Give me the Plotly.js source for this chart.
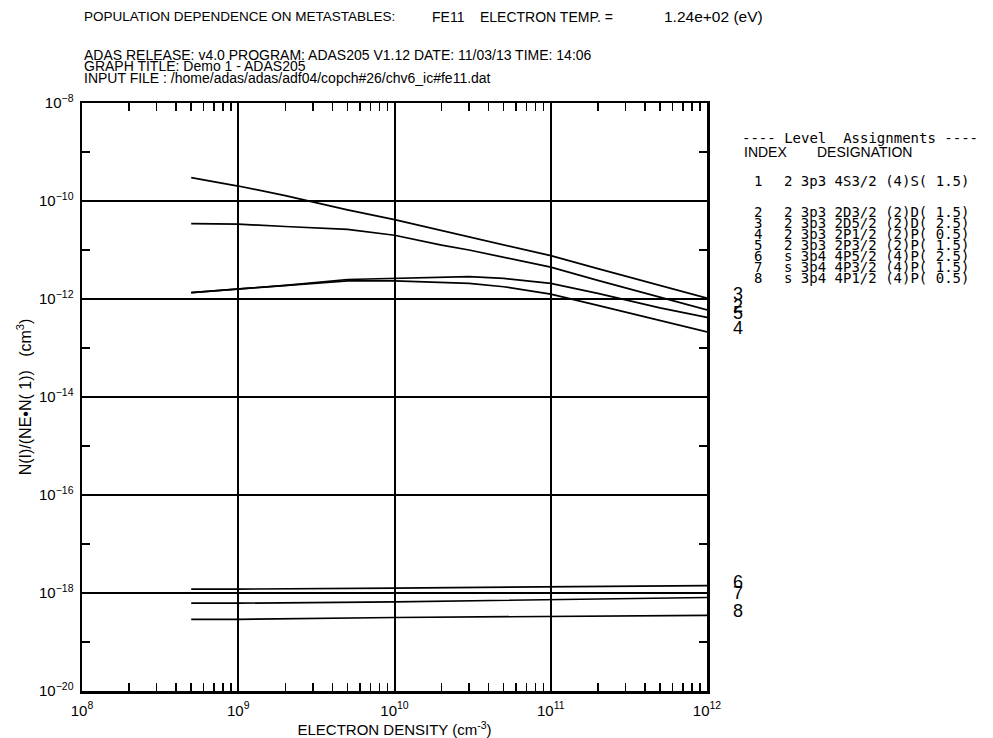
<!DOCTYPE html>
<html><head><meta charset="utf-8">
<script src="https://cdn.plot.ly/plotly-3.0.1.min.js"></script>
<style>html,body{margin:0;padding:0;background:#fff}</style>
</head><body><div id="chart" style="width:993px;height:738px"></div>
<script>
// ---- data ----
const density = [5e8, 1e9, 2e9, 5e9, 1e10, 2e10, 3e10, 5e10, 1e11, 2e11, 5e11, 1e12];
const level2 = [3.44e-11, 3.37e-11, 3.02e-11, 2.64e-11, 2.0e-11, 1.26e-11, 1.0e-11, 7.2e-12, 4.47e-12, 2.4e-12, 1.07e-12, 6.0e-13];
const level3 = [2.99e-10, 2.02e-10, 1.29e-10, 6.6e-11, 4.17e-11, 2.51e-11, 1.86e-11, 1.29e-11, 7.66e-12, 4.17e-12, 1.91e-12, 1.04e-12];
const level4 = [1.35e-12, 1.58e-12, 1.86e-12, 2.35e-12, 2.35e-12, 2.19e-12, 2.09e-12, 1.78e-12, 1.26e-12, 7.4e-13, 3.6e-13, 2.14e-13];
const level5 = [1.35e-12, 1.6e-12, 1.9e-12, 2.5e-12, 2.63e-12, 2.82e-12, 2.85e-12, 2.63e-12, 2.09e-12, 1.3e-12, 6.6e-13, 4.2e-13];
const densityLow = [5e8, 1e9, 1e10, 1e11, 1e12];
const level6 = [1.2e-18, 1.2e-18, 1.26e-18, 1.35e-18, 1.42e-18];
const level7 = [6.2e-19, 6.2e-19, 6.6e-19, 7.4e-19, 8.1e-19];
const level8 = [2.9e-19, 2.9e-19, 3.16e-19, 3.3e-19, 3.5e-19];

const xDecades = [1e8, 1e9, 1e10, 1e11, 1e12];
const xTickLabels = ['10<sup>8</sup>', '10<sup>9</sup>', '10<sup>10</sup>', '10<sup>11</sup>', '10<sup>12</sup>'];
const yDecades = [1e-20, 1e-19, 1e-18, 1e-17, 1e-16, 1e-15, 1e-14, 1e-13, 1e-12, 1e-11, 1e-10, 1e-9, 1e-8];
const yTickLabels = ['10<sup>−20</sup>', '', '10<sup>−18</sup>', '', '10<sup>−16</sup>', '', '10<sup>−14</sup>', '', '10<sup>−12</sup>', '', '10<sup>−10</sup>', '', '10<sup>−8</sup>'];
const yGrid = [1e-18, 1e-16, 1e-14, 1e-12, 1e-10];

const legendIndex = ['1', '2', '3', '4', '5', '6', '7', '8'];
const legendDesignation = [
  '2 3p3 4S3/2 (4)S( 1.5)',
  '2 3p3 2D3/2 (2)D( 1.5)',
  '2 3p3 2D5/2 (2)D( 2.5)',
  '2 3p3 2P1/2 (2)P( 0.5)',
  '2 3p3 2P3/2 (2)P( 1.5)',
  's 3p4 4P5/2 (4)P( 2.5)',
  's 3p4 4P3/2 (4)P( 1.5)',
  's 3p4 4P1/2 (4)P( 0.5)'
];
const curveNames = ['2', '3', '4', '5', '6', '7', '8'];
const curveX = [density, density, density, density, densityLow, densityLow, densityLow];
const curveY = [level2, level3, level4, level5, level6, level7, level8];

// ---- layout helpers ----
const L = 82, R = 707, T = 103, B = 691;
const px = x => (x - L) / (R - L);
const py = y => (B - y) / (B - T);
const SANS = 'Liberation Sans, Arial, sans-serif';
const MONO = 'DejaVu Sans Mono, Liberation Mono, monospace';

const xMinor = [];
for (let i = 0; i < xDecades.length - 1; i++) for (let m = 2; m <= 9; m++) xMinor.push(xDecades[i] * m);
const xAllTicks = xDecades.concat(xMinor);
const xAllText = xTickLabels.concat(xMinor.map(() => ''));

const traces = curveNames.map((n, i) => ({
  x: curveX[i], y: curveY[i], type: 'scatter', mode: 'lines', name: n,
  line: {color: '#000', width: 1.7}, hoverinfo: 'skip', showlegend: false
}));
traces.push({x: [1e9], y: [1e-14], xaxis: 'x2', yaxis: 'y2', type: 'scatter', mode: 'markers',
  marker: {opacity: 0}, showlegend: false, hoverinfo: 'skip'});

const annotations = [];
curveNames.forEach((n, i) => {
  const yv = curveY[i][curveY[i].length - 1];
  annotations.push({x: 12, y: Math.log10(yv), xref: 'x', yref: 'y', text: n, showarrow: false,
    xanchor: 'center', yanchor: 'middle', xshift: 31, yshift: 4, font: {family: SANS, size: 18, color: '#000'}});
});
const header = [
  ['POPULATION DEPENDENCE ON METASTABLES:', 82, 17, 13.5],
  ['FE11', 430, 17, 14],
  ['ELECTRON TEMP. =', 478, 17, 14],
  ['1.24e+02 (eV)', 662, 17, 15.5],
  ['ADAS RELEASE: v4.0 PROGRAM: ADAS205 V1.12 DATE: 11/03/13 TIME: 14:06', 82, 55, 14],
  ['GRAPH TITLE: Demo 1 - ADAS205', 82, 66, 14],
  ['INPUT FILE : /home/adas/adas/adf04/copch#26/chv6_ic#fe11.dat', 82, 78, 14]
];
header.forEach(h => annotations.push({x: px(h[1]), y: py(h[2]), xref: 'paper', yref: 'paper', text: h[0],
  showarrow: false, xanchor: 'left', yanchor: 'middle', font: {family: SANS, size: h[3], color: '#000'}}));
annotations.push({x: px(740), y: py(138), xref: 'paper', yref: 'paper', text: '---- Level  Assignments ----',
  showarrow: false, xanchor: 'left', yanchor: 'middle', font: {family: MONO, size: 14, color: '#000'}});
annotations.push({x: px(742), y: py(152), xref: 'paper', yref: 'paper', text: 'INDEX',
  showarrow: false, xanchor: 'left', yanchor: 'middle', font: {family: SANS, size: 14, color: '#000'}});
annotations.push({x: px(815), y: py(152), xref: 'paper', yref: 'paper', text: 'DESIGNATION',
  showarrow: false, xanchor: 'left', yanchor: 'middle', font: {family: SANS, size: 14, color: '#000'}});
const rowY = [181, 212, 223, 234, 245, 256, 267, 278];
legendIndex.forEach((idx, i) => {
  annotations.push({x: px(758), y: py(rowY[i]), xref: 'paper', yref: 'paper', text: idx, showarrow: false,
    xanchor: 'center', yanchor: 'middle', font: {family: MONO, size: 14, color: '#000'}});
  annotations.push({x: px(782), y: py(rowY[i]), xref: 'paper', yref: 'paper', text: legendDesignation[i], showarrow: false,
    xanchor: 'left', yanchor: 'middle', font: {family: MONO, size: 14, color: '#000'}});
});

const layout = {
  width: 993, height: 738,
  margin: {l: L, r: 993 - R, t: T, b: 738 - B, pad: 0},
  paper_bgcolor: '#fff', plot_bgcolor: '#fff',
  showlegend: false,
  xaxis: {
    type: 'log', range: [8, 12], tickmode: 'array', tickvals: xAllTicks, ticktext: xAllText,
    ticks: 'inside', ticklen: 8, tickwidth: 1.5, tickcolor: '#000', mirror: 'allticks',
    showline: true, linewidth: 2.5, linecolor: '#000', showgrid: false, zeroline: false,
    ticklabelstandoff: 4,
    tickfont: {family: SANS, size: 15, color: '#000'},
    title: {text: 'ELECTRON DENSITY (cm<sup>-3</sup>)', font: {family: SANS, size: 15, color: '#000'}, standoff: 8}
  },
  xaxis2: {
    type: 'log', range: [8, 12], overlaying: 'x', tickmode: 'array', tickvals: xDecades,
    showgrid: true, gridcolor: '#000', gridwidth: 2, showticklabels: false, ticks: '', showline: false, zeroline: false
  },
  yaxis: {
    type: 'log', range: [-20, -8], tickmode: 'array', tickvals: yDecades, ticktext: yTickLabels,
    ticks: 'inside', ticklen: 8, tickwidth: 1.5, tickcolor: '#000', mirror: 'allticks',
    showline: true, linewidth: 2.5, linecolor: '#000', showgrid: false, zeroline: false,
    ticklabelstandoff: 3,
    tickfont: {family: SANS, size: 15, color: '#000'},
    title: {text: 'N(I)/(NE•N( 1))   (cm<sup>3</sup>)', font: {family: SANS, size: 16, color: '#000'}, standoff: 4}
  },
  yaxis2: {
    type: 'log', range: [-20, -8], overlaying: 'y', tickmode: 'array', tickvals: yGrid,
    showgrid: true, gridcolor: '#000', gridwidth: 2, showticklabels: false, ticks: '', showline: false, zeroline: false
  },
  annotations: annotations
};
Plotly.newPlot('chart', traces, layout, {displayModeBar: false, staticPlot: true});
</script></body></html>
